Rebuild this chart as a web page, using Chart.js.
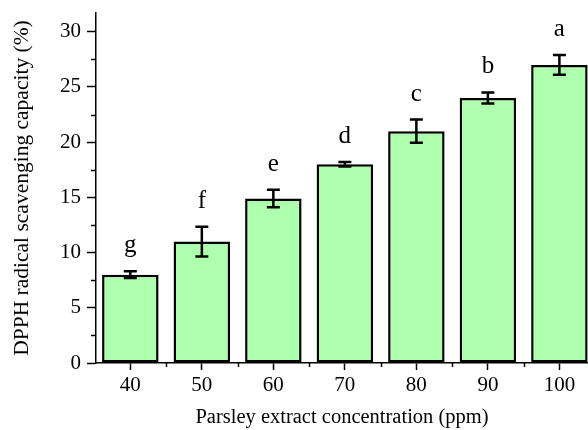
<!DOCTYPE html>
<html>
<head>
<meta charset="utf-8">
<script src="https://cdn.jsdelivr.net/npm/chart.js@4/dist/chart.umd.min.js"></script>
<style>
  html, body { margin: 0; padding: 0; background: #fff; }
  #wrap { width: 588px; height: 430px; }
</style>
</head>
<body>
<div id="wrap"><canvas id="dpphChart"></canvas></div>
<script>
// ==================== DATA ====================
let concentrations = [40, 50, 60, 70, 80, 90, 100];
let scavenging = [8.0, 11.0, 14.9, 18.0, 21.0, 24.0, 27.0];
let scavengingSD = [0.3, 1.35, 0.8, 0.2, 1.05, 0.5, 0.9];
let groupLetters = ['g', 'f', 'e', 'd', 'c', 'b', 'a'];
let yTicks = [0, 5, 10, 15, 20, 25, 30];

let serif = '"Liberation Serif", "Times New Roman", serif';

// error bars, letters and minor ticks
let extrasPlugin = {
    id: 'extras',
    afterDatasetsDraw: function(chart){
        let ctx = chart.ctx;
        let x = chart.scales.x;
        let y = chart.scales.y;
        ctx.save();
        ctx.strokeStyle = '#000';
        ctx.lineWidth = 2.5;
        for (let i = 0; i < concentrations.length; i++) {
            let px = x.getPixelForValue(concentrations[i]);
            let top = y.getPixelForValue(scavenging[i] + scavengingSD[i]);
            let bot = y.getPixelForValue(scavenging[i] - scavengingSD[i]);
            ctx.beginPath();
            ctx.moveTo(px, top); ctx.lineTo(px, bot);
            ctx.moveTo(px - 6.5, top); ctx.lineTo(px + 6.5, top);
            ctx.moveTo(px - 6.5, bot); ctx.lineTo(px + 6.5, bot);
            ctx.stroke();

            ctx.fillStyle = '#000';
            ctx.font = '25px ' + serif;
            ctx.textAlign = 'center';
            ctx.textBaseline = 'alphabetic';
            ctx.fillText(groupLetters[i], px, top - 19);
        }
        ctx.restore();
    },
    afterDraw: function(chart){
        let ctx = chart.ctx;
        let x = chart.scales.x;
        let y = chart.scales.y;
        let area = chart.chartArea;
        ctx.save();
        ctx.strokeStyle = '#000';
        ctx.lineWidth = 1.5;
        ctx.beginPath();
        for (let v = 2.5; v < 31; v += 5) {
            let py = Math.round(y.getPixelForValue(v)) + 0.5;
            ctx.moveTo(area.left - 5, py); ctx.lineTo(area.left, py);
        }
        for (let v = 45; v < 100; v += 10) {
            let px = Math.round(x.getPixelForValue(v)) + 0.5;
            ctx.moveTo(px, area.bottom); ctx.lineTo(px, area.bottom + 4);
        }
        ctx.stroke();
        ctx.restore();
    }
};

let dpphChart = new Chart(document.getElementById('dpphChart'), {
    type: 'bar',
    data: {
        datasets: [
            {
                label: 'DPPH radical scavenging capacity',
                data: concentrations.map(function(c, i){ return { x: c, y: scavenging[i] }; }),
                backgroundColor: '#aeffae',
                borderColor: '#000',
                borderWidth: 2.5,
                borderSkipped: false,
                categoryPercentage: 1,
                barPercentage: 0.79
            }
        ]
    },
    options: {
        responsive: true,
        maintainAspectRatio: false,
        animation: false,
        layout: { padding: { top: 13, right: 0, left: 0, bottom: 0 } },
        plugins: {
            legend: { display: false },
            tooltip: { enabled: false }
        },
        scales: {
            x: {
                type: 'linear',
                offset: false,
                min: 35.2,
                max: 104.0,
                afterBuildTicks: function(scale){
                    scale.ticks = concentrations.map(function(v){ return { value: v }; });
                },
                afterFit: function(scale){
                    scale.height = 67;
                    scale.paddingLeft = 0;
                    scale.paddingRight = 0;
                },
                grid: { offset: false, drawOnChartArea: false, drawTicks: true, tickLength: 7, tickWidth: 1.5, tickColor: '#000' },
                border: { display: true, color: '#000', width: 1.5 },
                ticks: {
                    color: '#000',
                    padding: 3,
                    font: { family: serif, size: 21 },
                    maxRotation: 0,
                    autoSkip: false
                },
                title: {
                    display: true,
                    text: 'Parsley extract concentration (ppm)',
                    color: '#000',
                    font: { family: serif, size: 20.5 },
                    padding: { top: 0, bottom: 0 }
                }
            },
            y: {
                min: 0,
                max: 31.7,
                afterBuildTicks: function(scale){
                    scale.ticks = yTicks.map(function(v){ return { value: v }; });
                },
                afterFit: function(scale){
                    scale.width = 96;
                    scale.paddingTop = 0;
                    scale.paddingBottom = 0;
                },
                grid: { drawOnChartArea: false, drawTicks: true, tickLength: 9, tickWidth: 1.5, tickColor: '#000' },
                border: { display: true, color: '#000', width: 1.5 },
                ticks: {
                    color: '#000',
                    padding: 6,
                    font: { family: serif, size: 21 }
                },
                title: {
                    display: true,
                    text: 'DPPH radical scavenging capacity (%)',
                    color: '#000',
                    font: { family: serif, size: 21.5 },
                    padding: { top: 9, bottom: 0 }
                }
            }
        }
    },
    plugins: [extrasPlugin]
});
</script>
</body>
</html>
